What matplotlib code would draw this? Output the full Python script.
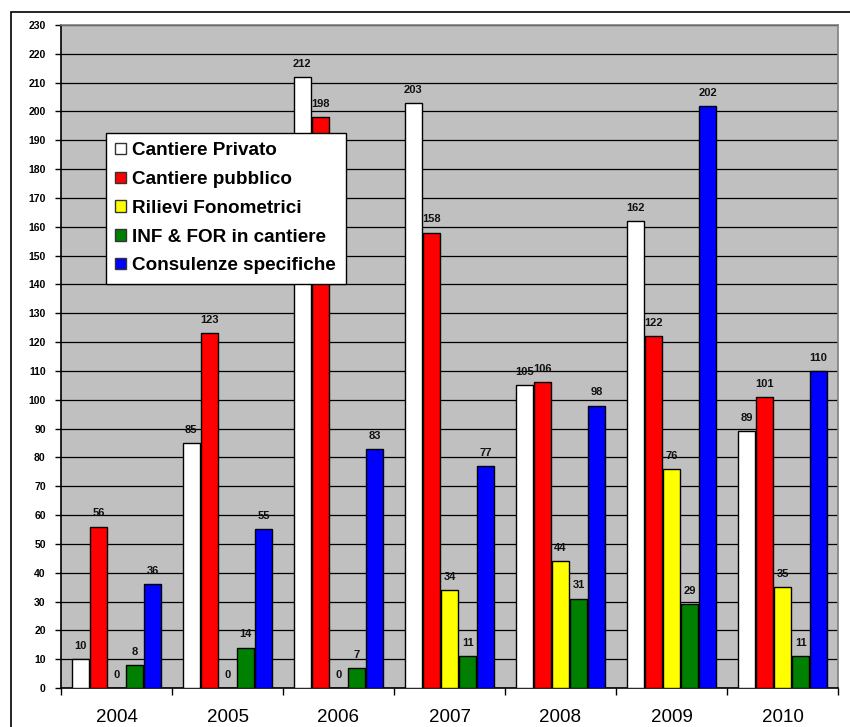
import matplotlib
matplotlib.use("Agg")
import matplotlib.pyplot as plt
from matplotlib.patches import Rectangle
import numpy as np

plt.rcParams['font.family'] = ['Liberation Sans', 'DejaVu Sans']

years = ["2004", "2005", "2006", "2007", "2008", "2009", "2010"]
series_names = ["Cantiere Privato", "Cantiere pubblico", "Rilievi Fonometrici",
                "INF & FOR in cantiere", "Consulenze specifiche"]
cantiere_privato = [10, 85, 212, 203, 105, 162, 89]
cantiere_pubblico = [56, 123, 198, 158, 106, 122, 101]
rilievi_fonometrici = [0, 0, 0, 34, 44, 76, 35]
inf_for_cantiere = [8, 14, 7, 11, 31, 29, 11]
consulenze_specifiche = [36, 55, 83, 77, 98, 202, 110]
series_colors = ["#FFFFFF", "#FF0000", "#FFFF00", "#008000", "#0000FF"]
y_ticks = list(range(0, 231, 10))

series = [cantiere_privato, cantiere_pubblico, rilievi_fonometrici,
          inf_for_cantiere, consulenze_specifiche]

fig = plt.figure(figsize=(8.5, 7.27), dpi=100)
ax = fig.add_axes([61 / 850, 1 - 688 / 727, (838 - 61) / 850, (688 - 25) / 727])
ax.set_facecolor("#C0C0C0")

x = np.arange(len(years))
pitch = 0.163
width = 0.148
for i, (vals, color, name) in enumerate(zip(series, series_colors, series_names)):
    pos = x + (i - 2) * pitch
    ax.bar(pos, vals, width=width, color=color, edgecolor="black",
           linewidth=1.0, label=name, zorder=3)
    for px, v in zip(pos, vals):
        ax.annotate(str(v), (px, v), xytext=(0, 9.5), textcoords="offset points",
                    ha="center", va="center", fontsize=8, fontweight="bold",
                    color="#111111", zorder=4)

ax.set_xlim(-0.5, len(years) - 0.5)
ax.set_ylim(0, 230)
ax.set_yticks(y_ticks)
ax.set_yticklabels([str(t) for t in y_ticks], fontsize=7.5, fontweight="bold")
ax.yaxis.grid(True, color="black", linewidth=0.9, zorder=1)
ax.set_axisbelow(True)

ax.set_xticks(np.arange(-0.5, len(years)), minor=False)
ax.set_xticklabels([])
ax.set_xticks(x, minor=True)
ax.set_xticklabels(years, minor=True, fontsize=13.5)
ax.tick_params(axis="x", which="major", length=5, width=1, color="black", direction="out")
ax.tick_params(axis="x", which="minor", length=0, pad=15)
ax.tick_params(axis="y", length=4, width=1, direction="out", pad=7)

for s in ("top", "right"):
    ax.spines[s].set_color("#808080")
    ax.spines[s].set_linewidth(1.2)
for s in ("left", "bottom"):
    ax.spines[s].set_color("black")
    ax.spines[s].set_linewidth(1.2)

leg = ax.legend(loc="upper left", bbox_to_anchor=(106 / 850, 1 - 133 / 727),
                bbox_transform=fig.transFigure, frameon=True, fancybox=False,
                framealpha=1, edgecolor="black", facecolor="white",
                prop={"size": 13.6, "weight": "bold"}, handlelength=0.55,
                handleheight=0.55, handletextpad=0.35, labelspacing=0.62,
                borderpad=0.5, borderaxespad=0)
leg.get_frame().set_linewidth(1.0)
for h in leg.legend_handles:
    h.set_edgecolor("#333333")
    h.set_linewidth(1.0)

fig.patches.append(Rectangle((10.5 / 850, -0.05), 1.2, 1 - 12 / 727 + 0.05,
                             transform=fig.transFigure, fill=False,
                             edgecolor="black", linewidth=1.2))

fig.savefig("out.png", dpi=100)
